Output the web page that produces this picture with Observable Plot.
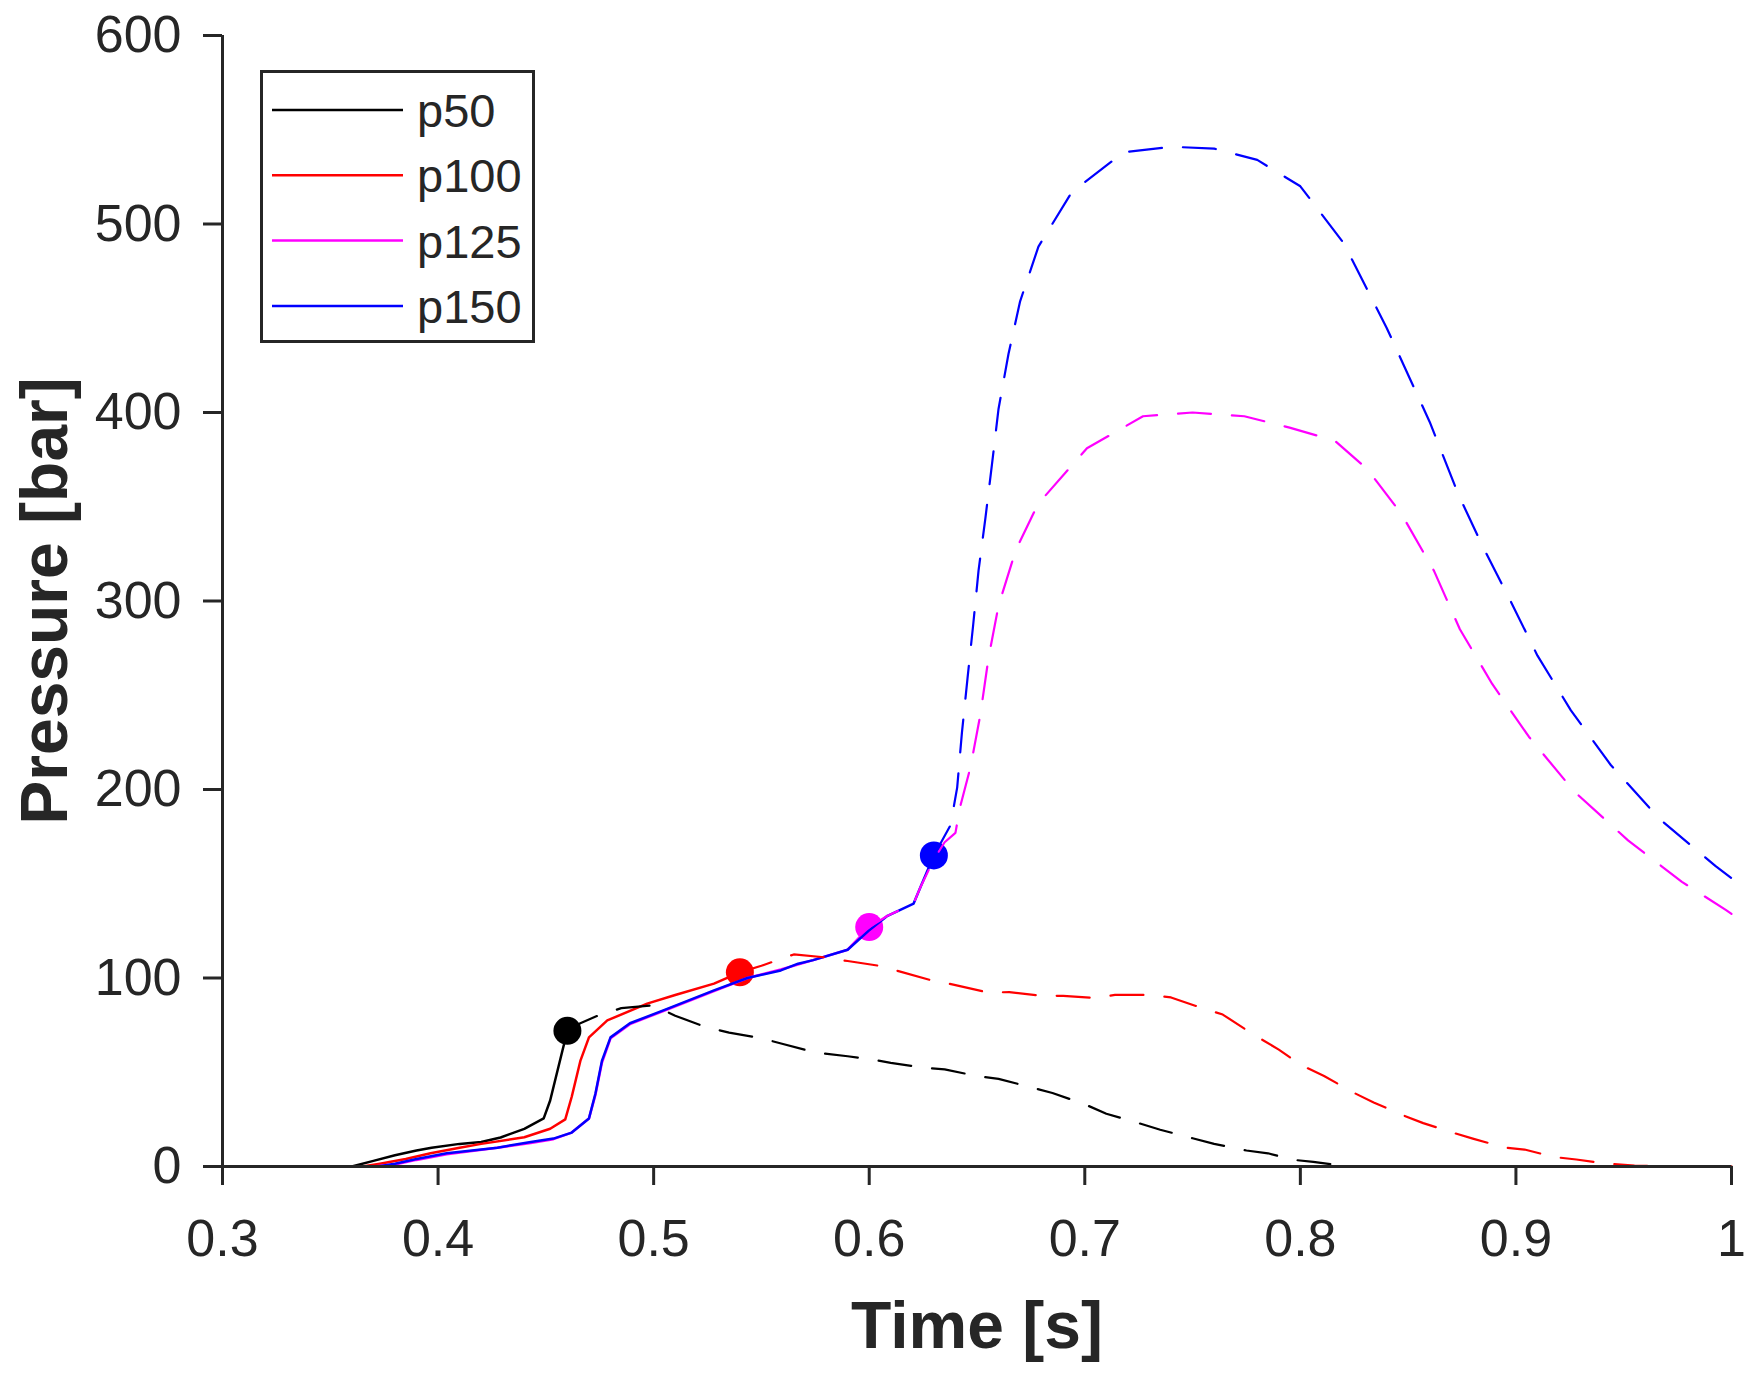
<!DOCTYPE html>
<html>
<head>
<meta charset="utf-8">
<script src="https://cdn.jsdelivr.net/npm/d3@7"></script>
<script src="https://cdn.jsdelivr.net/npm/@observablehq/plot@0.6"></script>
<style>
  body { margin: 0; background: #fff; }
  #chart { position: relative; width: 1759px; height: 1378px; }
  #legend { position: absolute; left: 0; top: 0; pointer-events: none; }
</style>
</head>
<body>
<div id="chart"></div>
<script>
// series and marker values
const seriesNames = ['p50', 'p100', 'p125', 'p150']
const seriesColors = ['#000000', '#ff0000', '#ff00ff', '#0000ff']

const markerTimes = [0.46, 0.54, 0.60, 0.63]
const markerPressures = [72, 103, 127, 165]

// solid part (up to the marker)
const p50Solid = [[0.30,0],[0.36,0],[0.37,3],[0.38,6],[0.39,8.5],[0.397,10],[0.41,12],[0.42,13],[0.429,15.4],[0.44,20],[0.449,25.5],[0.452,35],[0.4577,61.5],[0.46,72]]
const p100Solid = [[0.30,0],[0.365,0],[0.373,1.5],[0.385,4],[0.3965,7],[0.41,10],[0.42,12],[0.44,15.5],[0.452,20],[0.459,25],[0.462,37],[0.466,56],[0.47,68.5],[0.4785,77.5],[0.497,86.4],[0.51,91],[0.528,97],[0.54,103]]
const p125Solid = [[0.30,0],[0.37,0],[0.38,1],[0.39,3.5],[0.404,6.5],[0.4275,10],[0.443,12.5],[0.4535,14.5],[0.462,18],[0.47,25.5],[0.473,38],[0.476,55],[0.48,68],[0.489,75.5],[0.5045,82.5],[0.528,93],[0.5435,100],[0.559,104.5],[0.574,109.5],[0.59,115],[0.60,127]]
const p150Solid = [[0.30,0],[0.372,0],[0.38,1.5],[0.39,4],[0.404,7],[0.4275,10],[0.443,13],[0.4535,14.8],[0.462,18],[0.47,25.5],[0.473,38.7],[0.476,56],[0.48,68.5],[0.489,76],[0.5045,82.8],[0.528,93.4],[0.5435,100],[0.559,104],[0.567,107.6],[0.574,109.5],[0.59,115],[0.5997,125],[0.6085,133],[0.6206,139.5],[0.6237,148],[0.63,165]]

// dashed part (after the marker)
const p50Dashed = [[0.46,72],[0.466,76],[0.474,80],[0.485,84],[0.50,85.5],[0.51,80],[0.524,74],[0.535,71],[0.55,68],[0.56,65],[0.575,60.5],[0.59,58.5],[0.60,57],[0.61,55],[0.625,52.5],[0.635,51.5],[0.65,48],[0.66,46.5],[0.675,42],[0.685,39],[0.70,33],[0.71,28],[0.725,23],[0.735,19.5],[0.75,15],[0.76,12],[0.775,8.5],[0.785,7],[0.797,3.5],[0.806,2.5],[0.82,0.3],[0.83,0],[1.0,0]]
const p100Dashed = [[0.54,103],[0.55,106.5],[0.565,112.5],[0.579,111],[0.59,109],[0.604,106.6],[0.614,103.5],[0.629,98.7],[0.639,96.5],[0.655,92.3],[0.665,92.5],[0.679,90.7],[0.69,90.5],[0.704,89.5],[0.714,91],[0.73,91],[0.74,89.7],[0.755,83.8],[0.764,80.6],[0.779,69.5],[0.79,62],[0.80,54],[0.811,48],[0.825,39],[0.834,34],[0.848,27],[0.857,23],[0.872,17.5],[0.88,14.8],[0.895,10],[0.904,9],[0.918,5],[0.928,3.7],[0.941,1.6],[0.955,0.5],[0.975,0],[1.0,0]]
const p125Dashed = [[0.60,127],[0.6085,133],[0.6206,139.5],[0.6237,148],[0.63,163],[0.635,172],[0.64,177],[0.642,190],[0.647,212],[0.6516,240],[0.6553,269.5],[0.66,297.6],[0.668,327],[0.678,350.7],[0.681,355],[0.701,381],[0.727,398],[0.75,400],[0.774,398],[0.795,392],[0.816,385],[0.831,370],[0.847,346],[0.862,316],[0.874,285],[0.889,256],[0.906,228],[0.927,199],[0.952,173],[0.977,151],[0.9975,136],[1.0,134]]
const p150Dashed = [[0.63,165],[0.6377,181],[0.6408,201],[0.643,230],[0.6456,259],[0.6482,287],[0.6507,316],[0.6539,344],[0.657,373],[0.66,402],[0.6646,431],[0.67,459],[0.6785,488],[0.694,517],[0.718,538],[0.74,541],[0.76,540],[0.78,534],[0.80,520],[0.82,490],[0.84,445],[0.86,395],[0.8735,356],[0.885,328],[0.8975,300],[0.91,271],[0.9255,242],[0.944,213],[0.9665,184.5],[0.9925,159.5],[1.0,153]]

const xTicks = [0.3, 0.4, 0.5, 0.6, 0.7, 0.8, 0.9, 1]
const yTicks = [0, 100, 200, 300, 400, 500, 600]

const solids = [p50Solid, p100Solid, p125Solid, p150Solid]
const dashes = [p50Dashed, p100Dashed, p125Dashed, p150Dashed]
const rows = pts => pts.map(([t, p]) => ({t, p}))

const axisColor = '#262626'

let chart = Plot.plot({
  width: 1759,
  height: 1378,
  marginTop: 35,
  marginLeft: 222,
  marginRight: 28,
  marginBottom: 212,
  style: {fontFamily: 'Liberation Sans, Arial, sans-serif', background: '#fff'},
  x: {domain: [0.3, 1]},
  y: {domain: [0, 600]},
  marks: [
    // marker + measured curve per series
    ...seriesNames.flatMap((name, i) => [
      Plot.dot([{t: markerTimes[i], p: markerPressures[i]}], {x: 't', y: 'p', r: 14, fill: seriesColors[i]}),
      Plot.line(rows(solids[i]), {x: 't', y: 'p', stroke: seriesColors[i], strokeWidth: 2.5})
    ]),
    // predicted curves
    ...seriesNames.map((name, i) =>
      Plot.line(rows(dashes[i]), {x: 't', y: 'p', stroke: seriesColors[i], strokeWidth: 2.2, strokeDasharray: '33,21'})
    ),
    Plot.ruleX([0.3], {stroke: axisColor, strokeWidth: 3}),
    Plot.ruleY([0], {stroke: axisColor, strokeWidth: 3}),
    Plot.axisX({ticks: xTicks, tickFormat: d => String(d), tickSize: 19, tickPadding: 34, fontSize: 52, color: axisColor, strokeWidth: 3, label: null}),
    Plot.axisY({ticks: yTicks, tickFormat: d => String(d), tickSize: 19, tickPadding: 22, fontSize: 52, color: axisColor, strokeWidth: 3, label: null}),
    Plot.text(['Time [s]'], {text: d => d, frameAnchor: 'bottom', dy: 160, lineAnchor: 'middle', textAnchor: 'middle', fontSize: 66, fontWeight: 'bold', fill: axisColor}),
    Plot.text(['Pressure [bar]'], {text: d => d, frameAnchor: 'left', dx: -177, rotate: -90, lineAnchor: 'middle', textAnchor: 'middle', fontSize: 66, fontWeight: 'bold', fill: axisColor})
  ]
})

d3.select('#chart').append(() => chart)

// legend box drawn over the upper-left of the axes
const legend = d3.select('#chart').append('svg')
  .attr('id', 'legend')
  .attr('width', 600)
  .attr('height', 400)

legend.append('rect')
  .attr('x', 261.5).attr('y', 71.5)
  .attr('width', 272).attr('height', 270)
  .attr('fill', '#fff')
  .attr('stroke', axisColor)
  .attr('stroke-width', 3)

seriesNames.forEach((name, i) => {
  const y = 110 + i * 65.3
  legend.append('line')
    .attr('x1', 272).attr('x2', 403)
    .attr('y1', y).attr('y2', y)
    .attr('stroke', seriesColors[i])
    .attr('stroke-width', 2.5)
  legend.append('text')
    .attr('x', 417).attr('y', y + 17)
    .attr('font-family', 'Liberation Sans, Arial, sans-serif')
    .attr('font-size', 47)
    .attr('fill', axisColor)
    .text(name)
})
</script>
</body>
</html>
